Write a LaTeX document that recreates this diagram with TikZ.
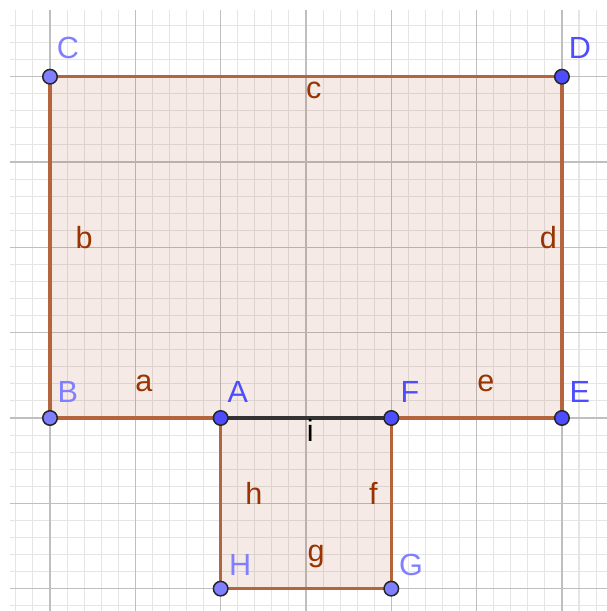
\documentclass[tikz,border=0pt]{standalone}
\usepackage{fontspec}
\setmainfont{Liberation Sans}
\usetikzlibrary{calc}
\definecolor{ggbedge}{HTML}{B5653E}
\definecolor{ggbtext}{HTML}{993300}
\definecolor{ggbdark}{HTML}{4D4DFF}
\definecolor{ggblight}{HTML}{7F7FFF}
\tikzset{
	minorgrid/.style={draw=black!10, line width=0.35pt},
	majorgrid/.style={draw=black!25, line width=0.5pt},
	side/.style={draw=ggbedge, line width=1.1pt, line join=round},
	shade/.style={fill=ggbtext, fill opacity=0.1},
	dot/.style={circle, draw=black!85, line width=0.5pt, inner sep=0pt, minimum size=0.17cm},
	ptname/.style={font=\fontsize{10.2}{12}\selectfont, inner sep=0pt},
	sidename/.style={font=\fontsize{10.2}{12}\selectfont, inner sep=0pt, text=ggbtext}
}

\begin{document}
\begin{tikzpicture}
		%%%%% START %%%%%
		\useasboundingbox (-0.586, -2.262) rectangle (6.528, 4.899);
		
		\draw[minorgrid] (-0.469, -2.262) grid[step=0.2] (6.528, 4.781);
		\draw[majorgrid] (-0.469, -2.262) grid[step=1] (6.528, 4.781);
		
		\coordinate (B) at (0, 0);
		\coordinate (A) at (2, 0);
		\coordinate (F) at (4, 0);
		\coordinate (E) at (6, 0);
		\coordinate (D) at (6, 4);
		\coordinate (C) at (0, 4);
		\coordinate (H) at (2, -2);
		\coordinate (G) at (4, -2);
		
		\fill[shade] (B) -- (E) -- (D) -- (C) -- cycle;
		\fill[shade] (A) -- (F) -- (G) -- (H) -- cycle;
		
		\draw[side] (A) -- (B) -- (C) -- (D) -- (E) -- (F);
		\draw[side] (F) -- (G) -- (H) -- (A);
		\draw[line width=1.1pt, color=black!80] (A) -- (F);
		
		\node[sidename] at (0.40, 2.11) {b};
		\node[sidename] at (3.09, 3.84) {c};
		\node[sidename] at (5.84, 2.11) {d};
		\node[sidename] at (1.10, 0.41) {a};
		\node[sidename] at (5.11, 0.41) {e};
		\node[sidename, text=black] at (3.05, -0.14) {i};
		\node[sidename] at (2.39, -0.88) {h};
		\node[sidename] at (3.79, -0.88) {f};
		\node[sidename] at (3.12, -1.62) {g};
		
		\foreach \p in {B, C, H, G} {
			\node[dot, fill=ggblight] (dot\p) at (\p) {};
		}
		\foreach \p in {A, D, E, F} {
			\node[dot, fill=ggbdark] (dot\p) at (\p) {};
		}
		
		\node[ptname, text=ggblight] at (0.21, 4.34) {C};
		\node[ptname, text=ggbdark] at (6.21, 4.34) {D};
		\node[ptname, text=ggblight] at (0.21, 0.31) {B};
		\node[ptname, text=ggbdark] at (2.20, 0.31) {A};
		\node[ptname, text=ggbdark] at (4.22, 0.31) {F};
		\node[ptname, text=ggbdark] at (6.21, 0.31) {E};
		\node[ptname, text=ggblight] at (2.23, -1.72) {H};
		\node[ptname, text=ggblight] at (4.23, -1.72) {G};
		
		%%%%% END %%%%%
\end{tikzpicture}
\end{document}
